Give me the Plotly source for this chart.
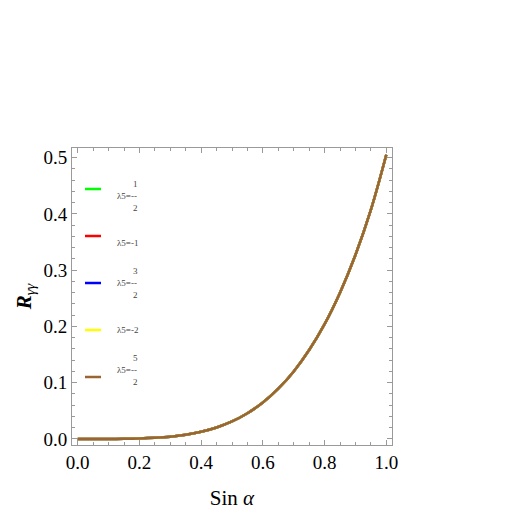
import plotly.graph_objects as go

# Sin(alpha) grid and R_gamma-gamma (all five curves coincide)
sin_alpha = [0.00, 0.05, 0.10, 0.15, 0.20, 0.25, 0.30, 0.35, 0.40, 0.45, 0.50,
             0.55, 0.60, 0.65, 0.70, 0.75, 0.80, 0.85, 0.90, 0.95, 1.00]
r_gg = [0.0, 0.000003, 0.00005, 0.00025, 0.0008, 0.002, 0.004, 0.0075, 0.0128,
        0.0205, 0.0312, 0.0458, 0.0648, 0.0893, 0.120, 0.158, 0.204, 0.260,
        0.327, 0.407, 0.505]

lam_main = ['λ5=--', 'λ5=-1', 'λ5=--', 'λ5=-2', 'λ5=--']
lam_num = ['1', '', '3', '', '5']
lam_den = ['2', '', '2', '', '2']
colors = ['#00ff00', '#ff0000', '#0000ff', '#ffff00', '#996633']

FONT = 'Liberation Serif'
FRAME = '#9a9a9a'

fig = go.Figure()
for c in colors:
    fig.add_trace(go.Scatter(x=sin_alpha, y=r_gg, mode='lines', line_shape='spline',
                             line=dict(color=c, width=2.5), showlegend=False))

# hand-drawn legend (Mathematica style, inside the frame)
pw, ph = 320, 297
for i, c in enumerate(colors):
    yp = (437 - (181 + 47 * i)) / ph
    fig.add_shape(type='line', xref='paper', yref='paper',
                  x0=(77 - 64) / pw, x1=(93 - 64) / pw, y0=yp, y1=yp,
                  line=dict(color=c, width=2.5))
    fig.add_annotation(xref='paper', yref='paper', x=(107 - 64) / pw, y=yp,
                       text=lam_main[i], showarrow=False, xanchor='left',
                       font=dict(family=FONT, size=9, color='#444'))
    if lam_num[i]:
        for t, dy in ((lam_num[i], 12), (lam_den[i], -12)):
            fig.add_annotation(xref='paper', yref='paper', x=(127 - 64) / pw, y=yp,
                               yshift=dy, text=t, showarrow=False, xanchor='center',
                               font=dict(family=FONT, size=9, color='#444'))

axis_common = dict(showgrid=False, zeroline=False, showline=True, linecolor=FRAME,
                   linewidth=1, mirror='ticks', ticks='inside', tickcolor=FRAME,
                   ticklen=5, tickfont=dict(family=FONT, size=19, color='black'))

fig.update_layout(
    width=526, height=527,
    margin=dict(l=64, r=142, t=140, b=90),
    paper_bgcolor='white', plot_bgcolor='white',
    showlegend=False,
    xaxis=dict(range=[-0.0185, 1.0185], tickvals=[0, 0.2, 0.4, 0.6, 0.8, 1.0],
               ticktext=['0.0', '0.2', '0.4', '0.6', '0.8', '1.0'],
               minor=dict(ticks='inside', dtick=0.05, ticklen=3, tickcolor=FRAME),
               title=dict(text='Sin <i>α</i>', standoff=18,
                          font=dict(family=FONT, size=21, color='black')),
               **axis_common),
    yaxis=dict(range=[-0.0107, 0.517], tickvals=[0, 0.1, 0.2, 0.3, 0.4, 0.5],
               ticktext=['0.0', '0.1', '0.2', '0.3', '0.4', '0.5'],
               minor=dict(ticks='inside', dtick=0.02, ticklen=3, tickcolor=FRAME),
               title=dict(text='<b><i>R</i></b><sub><i>γγ</i></sub>', standoff=6,
                          font=dict(family=FONT, size=21, color='black')),
               **axis_common),
)

fig.write_html('out.html')
